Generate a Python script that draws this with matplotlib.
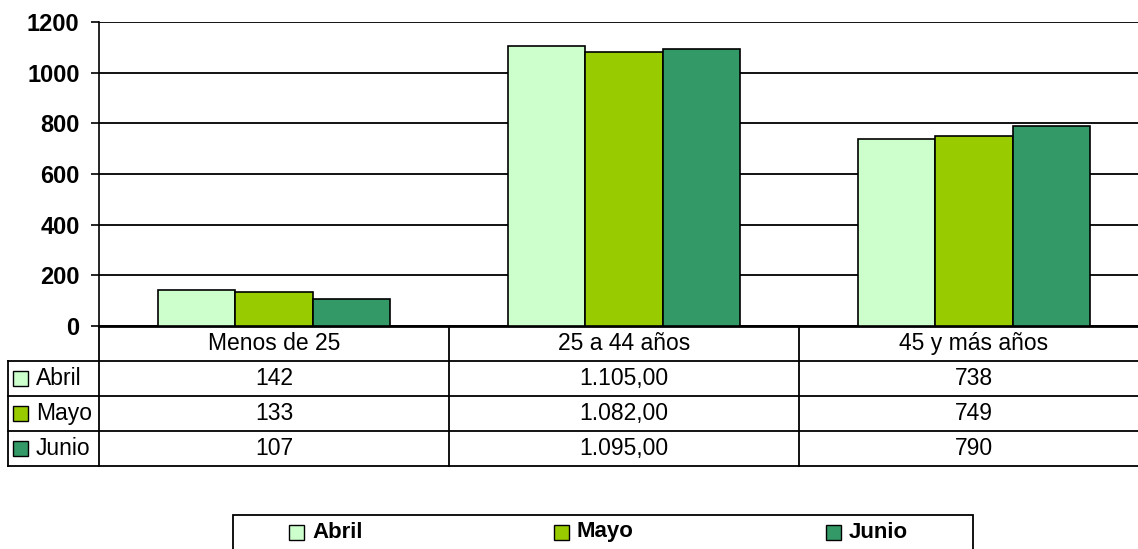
import matplotlib.pyplot as plt
from matplotlib.patches import Rectangle

# Data
categories = ['Menos de 25', '25 a 44 años', '45 y más años']
series = ['Abril', 'Mayo', 'Junio']
abril = [142, 1105, 738]
mayo = [133, 1082, 749]
junio = [107, 1095, 790]
values = [abril, mayo, junio]
# labels as shown in the data table
abril_lbl = ['142', '1.105,00', '738']
mayo_lbl = ['133', '1.082,00', '749']
junio_lbl = ['107', '1.095,00', '790']
labels = [abril_lbl, mayo_lbl, junio_lbl]
colors = ['#CCFFCC', '#99CC00', '#339966']
yticks = [0, 200, 400, 600, 800, 1000, 1200]

plt.rcParams['font.family'] = ['Liberation Sans', 'DejaVu Sans']

W, H = 1138, 549
fig = plt.figure(figsize=(W / 100, H / 100), dpi=100)

# Bar chart (plot area continues past the right edge, as in the original)
cat_px = 350.
ax = fig.add_axes([99 / W, 1 - 326 / H, 3 * cat_px / W, 304 / H])
bw = 0.221
for i, (s, v, c) in enumerate(zip(series, values, colors)):
    x = [k + (i - 1) * bw for k in range(len(categories))]
    ax.bar(x, v, width=bw, color=c, edgecolor='black', linewidth=1.2, zorder=3)
ax.set_xlim(-0.5, 2.5)
ax.set_ylim(0, 1200)
ax.set_yticks(yticks)
ax.set_yticklabels([str(t) for t in yticks], fontsize=17, fontweight='bold')
ax.set_xticks([])
ax.yaxis.grid(True, color='#111111', linewidth=1.4)
ax.set_axisbelow(True)
for sp in ['top', 'right']:
    ax.spines[sp].set_visible(False)
ax.spines['left'].set_linewidth(1.2)
ax.spines['bottom'].set_linewidth(2)
ax.tick_params(axis='y', length=6, width=1.2, pad=8)

# Data table below the chart
tab = fig.add_axes([99 / W, 1 - 466 / H, 3 * cat_px / W, 140 / H])
tab.set_xlim(-0.5, 2.5)
tab.set_ylim(4, 0)
tab.axis('off')


def px(p):
    return -0.5 + (p - 99) / cat_px


xl = px(8)
lw = 1.3
for r in [1, 2, 3, 4]:
    tab.plot([xl, 2.6], [r, r], color='black', lw=lw, clip_on=False)
for xv in [-0.5, 0.5, 1.5]:
    tab.plot([xv, xv], [0, 4], color='black', lw=lw, clip_on=False)
tab.plot([xl, xl], [1, 4], color='black', lw=lw, clip_on=False)

fs = 16.5
for k, cat in enumerate(categories):
    tab.text(k, 0.5, cat, ha='center', va='center', fontsize=fs)
for i, (s, c) in enumerate(zip(series, colors)):
    yr = i + 1.5
    for k in range(len(categories)):
        tab.text(k, yr, labels[i][k], ha='center', va='center', fontsize=fs)
    sq = 15
    tab.add_patch(Rectangle((px(13), yr - (sq / 2) / 35), sq / cat_px, sq / 35,
                            facecolor=c, edgecolor='black', lw=1, clip_on=False))
    tab.text(px(36), yr, s, ha='left', va='center', fontsize=fs)

# Legend box at the bottom
fig.patches.append(Rectangle((233 / W, -0.02), 740 / W, 0.02 + 34 / H, transform=fig.transFigure,
                             facecolor='white', edgecolor='black', lw=1.3))
leg_x = [289, 554, 826]
for s, c, lx in zip(series, colors, leg_x):
    fig.patches.append(Rectangle((lx / W, 1 - 540 / H), 15 / W, 15 / H, transform=fig.transFigure,
                                 facecolor=c, edgecolor='black', lw=1))
    fig.text((lx + 23) / W, 1 - 532 / H, s, ha='left', va='center', fontsize=16, fontweight='bold')

plt.savefig('out.png', dpi=100)
